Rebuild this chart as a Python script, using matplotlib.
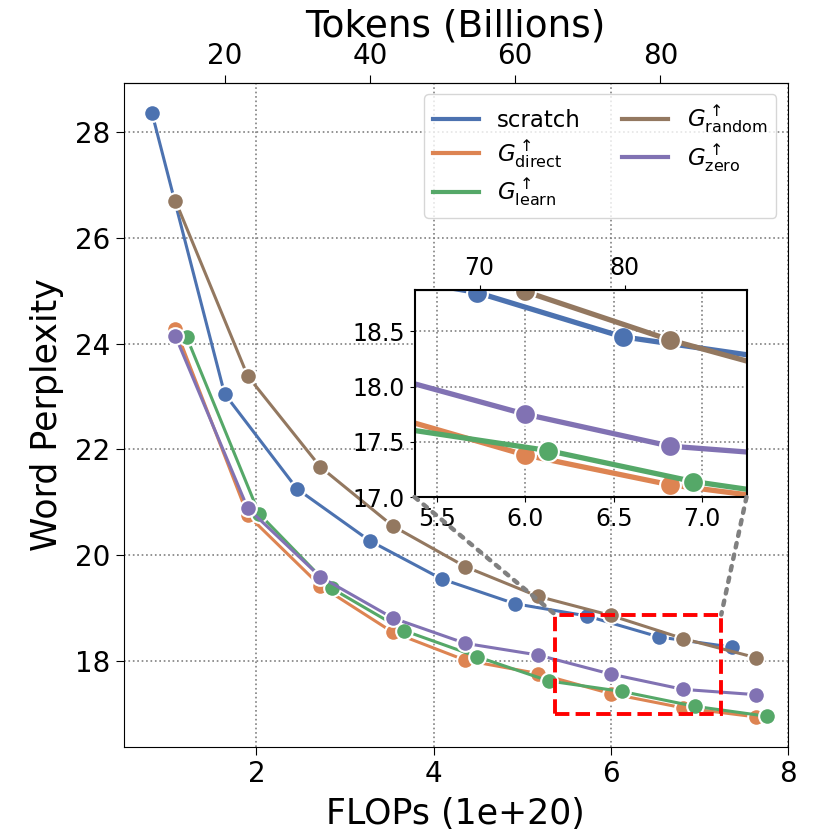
import numpy as np
import matplotlib
matplotlib.use("Agg")
import matplotlib.pyplot as plt
import seaborn as sns
from matplotlib.lines import Line2D
from matplotlib.patches import Rectangle, ConnectionPatch

# ---------------------------------------------------------------------
# data (FLOPs in 1e20, word perplexity)
# ---------------------------------------------------------------------
scratch_flops = [0.82, 1.64, 2.46, 3.28, 4.09, 4.92, 5.73, 6.55, 7.37]
scratch_ppl = [28.36, 23.05, 21.25, 20.27, 19.55, 19.08, 18.85, 18.45, 18.26]

grown_flops = [1.085, 1.90, 2.72, 3.54, 4.36, 5.18, 6.00, 6.82, 7.64]
direct_ppl = [24.28, 20.76, 19.42, 18.54, 18.01, 17.76, 17.38, 17.11, 16.94]
random_ppl = [26.70, 23.39, 21.67, 20.55, 19.78, 19.22, 18.86, 18.42, 18.06]
zero_ppl = [24.14, 20.89, 19.59, 18.81, 18.33, 18.11, 17.75, 17.46, 17.36]

learn_flops = [1.21, 2.03, 2.85, 3.67, 4.49, 5.30, 6.13, 6.95, 7.77]
learn_ppl = [24.13, 20.78, 19.37, 18.57, 18.08, 17.62, 17.42, 17.14, 16.95]

labels = ["scratch",
          r"$G_{\mathrm{direct}}^{\uparrow}$",
          r"$G_{\mathrm{learn}}^{\uparrow}$",
          r"$G_{\mathrm{random}}^{\uparrow}$",
          r"$G_{\mathrm{zero}}^{\uparrow}$"]

main_xticks = [2, 4, 6, 8]
main_yticks = [18, 20, 22, 24, 26, 28]
token_ticks = [20, 40, 60, 80]
inset_xticks = [5.5, 6.0, 6.5, 7.0]
inset_yticks = [17.0, 17.5, 18.0, 18.5]
inset_token_ticks = [70, 80]

TOKENS_PER_FLOP = 12.19  # billions of tokens per 1e20 FLOPs
zoom_x = (5.375, 7.25)
zoom_y = (17.0, 18.875)

pal = sns.color_palette("deep")
colors = [pal[0], pal[1], pal[2], pal[5], pal[4]]
series = [(scratch_flops, scratch_ppl), (grown_flops, direct_ppl),
          (learn_flops, learn_ppl), (grown_flops, random_ppl),
          (grown_flops, zero_ppl)]


def to_tokens(f):
    return np.asarray(f) * TOKENS_PER_FLOP


def to_flops(t):
    return np.asarray(t) / TOKENS_PER_FLOP


# ---------------------------------------------------------------------
# main axes
# ---------------------------------------------------------------------
fig = plt.figure(figsize=(8.3, 8.3), dpi=100)
ax = fig.add_axes([0.149, 0.1, 0.8, 0.8])

for (xs, ys), c in zip(series, colors):
    ax.plot(xs, ys, color=c, lw=2.2, marker="o", ms=12,
            mec="white", mew=1.5)

ax.set_xlim(0.5, 8)
ax.set_ylim(16.37, 28.93)
ax.set_xticks(main_xticks)
ax.set_yticks(main_yticks)
ax.tick_params(labelsize=20, length=6)
ax.grid(True, linestyle=":", color="gray", linewidth=1.2)
ax.set_xlabel("FLOPs (1e+20)", fontsize=25, labelpad=6)
ax.set_ylabel("Word Perplexity", fontsize=25, labelpad=8)

top = ax.secondary_xaxis("top", functions=(to_tokens, to_flops))
top.set_xticks(token_ticks)
top.tick_params(labelsize=20, length=6)
top.set_xlabel("Tokens (Billions)", fontsize=27, labelpad=4)

# legend shows plain line handles
handles = [Line2D([], [], color=c, lw=3) for c in colors]
ax.legend(handles, labels, ncol=2, fontsize=16.5, loc="upper right",
          handlelength=2.0, columnspacing=1.8, labelspacing=0.3)

# ---------------------------------------------------------------------
# zoomed inset
# ---------------------------------------------------------------------
axins = ax.inset_axes([0.438, 0.3765, 0.5, 0.312])
for (xs, ys), c in zip(series, colors):
    axins.plot(xs, ys, color=c, lw=3.8, marker="o", ms=15,
               mec="white", mew=1.5)
axins.set_xlim(*zoom_x)
axins.set_ylim(*zoom_y)
axins.set_xticks(inset_xticks)
axins.set_yticks(inset_yticks)
axins.set_xticklabels([f"{v:.1f}" for v in inset_xticks])
axins.set_yticklabels([f"{v:.1f}" for v in inset_yticks])
axins.tick_params(labelsize=17)
axins.grid(True, linestyle=":", color="gray", linewidth=1.2)
for s in axins.spines.values():
    s.set_linewidth(1.5)

itop = axins.secondary_xaxis("top", functions=(to_tokens, to_flops))
itop.set_xticks(inset_token_ticks)
itop.tick_params(labelsize=17)

rect = Rectangle((zoom_x[0], zoom_y[0]), zoom_x[1] - zoom_x[0],
                 zoom_y[1] - zoom_y[0], fill=False, edgecolor="red",
                 linestyle="--", linewidth=2.8, zorder=5)
ax.add_patch(rect)

for ins_corner, data_corner in [((0, 0), (zoom_x[0], zoom_y[1])),
                                ((1, 0), (zoom_x[1], zoom_y[1]))]:
    con = ConnectionPatch(xyA=ins_corner, coordsA=axins.transAxes,
                          xyB=data_corner, coordsB=ax.transData,
                          color="gray", linestyle=":", linewidth=3.2)
    fig.add_artist(con)

fig.savefig("out.png", dpi=100)
